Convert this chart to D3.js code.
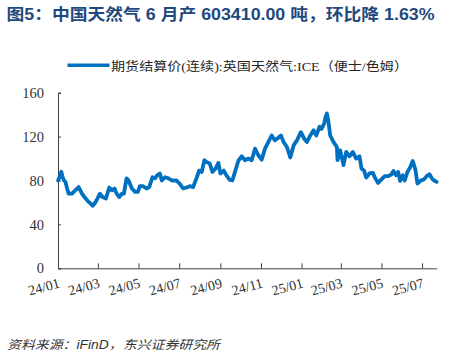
<!DOCTYPE html>
<html><head><meta charset="utf-8">
<script src="https://cdn.jsdelivr.net/npm/d3@7"></script>
<style>body{margin:0;background:#fff}svg{display:block}</style>
</head><body>
<svg id="c" width="471" height="357"></svg>
<script>
const titleText = "图5：中国天然气 6 月产 603410.00 吨，环比降 1.63%";
const seriesName = "期货结算价(连续):英国天然气:ICE（便士/色姆）";
const sourceText = "资料来源：iFinD，东兴证券研究所";
const yTicks = [0, 40, 80, 120, 160];
const xTickDates = ["2024-01-01","2024-03-01","2024-05-01","2024-07-01","2024-09-01","2024-11-01","2025-01-01","2025-03-01","2025-05-01","2025-07-01"];
const dates = ["2024-01-01","2024-01-04","2024-01-06","2024-01-08","2024-01-10","2024-01-12","2024-01-15","2024-01-17","2024-01-22","2024-01-27",
"2024-02-01","2024-02-06","2024-02-11","2024-02-16","2024-02-19","2024-02-22","2024-02-25","2024-02-28","2024-03-04","2024-03-08",
"2024-03-13","2024-03-18","2024-03-22","2024-03-26","2024-03-29","2024-04-02","2024-04-06","2024-04-09","2024-04-13","2024-04-16",
"2024-04-21","2024-04-26","2024-04-30","2024-05-03","2024-05-08","2024-05-13","2024-05-17","2024-05-22","2024-05-26","2024-05-29",
"2024-06-02","2024-06-05","2024-06-10","2024-06-15","2024-06-20","2024-06-27","2024-07-02","2024-07-07","2024-07-12","2024-07-17",
"2024-07-22","2024-07-27","2024-07-31","2024-08-04","2024-08-08","2024-08-11","2024-08-16","2024-08-20","2024-08-25","2024-08-29",
"2024-09-01","2024-09-06","2024-09-10","2024-09-15","2024-09-19","2024-09-22","2024-09-25","2024-09-28","2024-10-03","2024-10-08",
"2024-10-13","2024-10-18","2024-10-23","2024-10-28","2024-11-02","2024-11-07","2024-11-12","2024-11-17","2024-11-22","2024-11-27",
"2024-12-01","2024-12-05","2024-12-10","2024-12-15","2024-12-20","2024-12-25","2024-12-31","2025-01-05","2025-01-09","2025-01-14",
"2025-01-19","2025-01-23","2025-01-28","2025-01-31","2025-02-04","2025-02-06","2025-02-08","2025-02-10","2025-02-13","2025-02-18",
"2025-02-23","2025-02-24","2025-02-28","2025-03-05","2025-03-09","2025-03-14","2025-03-19","2025-03-24","2025-03-29","2025-04-01",
"2025-04-05","2025-04-08","2025-04-13","2025-04-18","2025-04-21","2025-04-26","2025-05-01","2025-05-06","2025-05-11","2025-05-16",
"2025-05-19","2025-05-23","2025-05-26","2025-05-29","2025-06-02","2025-06-05","2025-06-09","2025-06-13","2025-06-17","2025-06-21",
"2025-06-24","2025-06-29","2025-07-04","2025-07-08","2025-07-12","2025-07-16","2025-07-19","2025-07-23"];
const values = [80,84,88,83,80,79,72,68,68,71,
74,68,64,60.5,59,57,59,62,68,65,
63.6,73.6,71,72.7,68,65,68,68,82,80,
72.7,69.6,69.6,74.8,74.8,72.7,74,83,82,84.8,
86.4,80,83,82,80,80,77,72.7,73.6,74.8,
74,82,89,87.8,98.5,97,95.5,87.8,91,96,
86.4,89,84.8,80.5,80,86,92,98,102,98.5,
100,98.5,109,103,99,109,115,121,116.6,119,
121,115,110.5,101,112,116.6,124,118,115,121,
125.7,121,129,127,132,138,141,135,121,115,
110.5,98.5,107.5,94,106,102,106,100,102,91,
89,82.7,86.4,87,82.7,77.8,81,84,84,85.5,
88.7,84.8,87.8,79.6,84.8,80,87.8,91.8,97.8,90,
77.3,80,81,84,85.7,81.8,80,78.7];

const parse = d3.timeParse("%Y-%m-%d");
const data = dates.map((d,i)=>({date:parse(d), v:values[i]}));
const svg = d3.select("#c");
const lineColor = "#0070C0";
const axisColor = "#404040";
const serif = "'Liberation Serif','Times New Roman','Noto Sans CJK SC',serif";

const x = d3.scaleTime().domain([parse("2024-01-01"), parse("2025-07-23")]).range([58, 436.7]);
const y = d3.scaleLinear().domain([0,160]).range([268.3, 92.7]);

// title
svg.append("text").attr("x",6.5).attr("y",19.5)
  .attr("font-family","'Liberation Sans',Arial,'Noto Sans CJK SC',sans-serif")
  .attr("font-weight","bold").attr("font-size",16).attr("fill","#1F497D")
  .attr("textLength",428).attr("lengthAdjust","spacingAndGlyphs")
  .text(titleText);

// legend
svg.append("line").attr("x1",67.5).attr("x2",109.5).attr("y1",65.3).attr("y2",65.3)
  .attr("stroke",lineColor).attr("stroke-width",3.5);
svg.append("text").attr("x",111).attr("y",70.5)
  .attr("font-family",serif).attr("font-size",12.5).attr("fill","#262626")
  .attr("textLength",297).attr("lengthAdjust","spacingAndGlyphs")
  .text(seriesName);

// y axis
const yAxis = d3.axisLeft(y).tickValues(yTicks).tickSize(-3).tickPadding(14);
const gy = svg.append("g").attr("transform","translate(58,0)").call(yAxis);
gy.select(".domain").attr("stroke",axisColor);
gy.selectAll(".tick line").attr("stroke",axisColor);
gy.selectAll(".tick text").attr("font-family",serif).attr("font-size",14.5).attr("fill","#333");

// x axis
const xAxis = d3.axisBottom(x).tickValues(xTickDates.map(parse)).tickSize(-5).tickSizeOuter(0)
  .tickFormat(d3.timeFormat("%y/%m"));
const gx = svg.append("g").attr("transform","translate(0,268.3)").call(xAxis);
gx.select(".domain").attr("stroke",axisColor);
gx.selectAll(".tick line").attr("stroke",axisColor);
gx.selectAll(".tick text")
  .attr("font-family",serif).attr("font-size",14).attr("fill","#333")
  .attr("text-anchor","end").attr("dy",null).attr("y",null)
  .attr("transform","translate(2,19) rotate(-15)");

// line
svg.append("path").datum(data)
  .attr("fill","none").attr("stroke",lineColor).attr("stroke-width",3.8)
  .attr("stroke-linejoin","round").attr("stroke-linecap","round")
  .attr("d", d3.line().x(d=>x(d.date)).y(d=>y(d.v)));

// source
svg.append("text").attr("x",7).attr("y",349)
  .attr("font-family","'Liberation Sans',Arial,'Noto Sans CJK SC',sans-serif")
  .attr("font-style","italic").attr("font-size",12).attr("fill","#333")
  .attr("textLength",213).attr("lengthAdjust","spacingAndGlyphs")
  .text(sourceText);
</script>
</body></html>
